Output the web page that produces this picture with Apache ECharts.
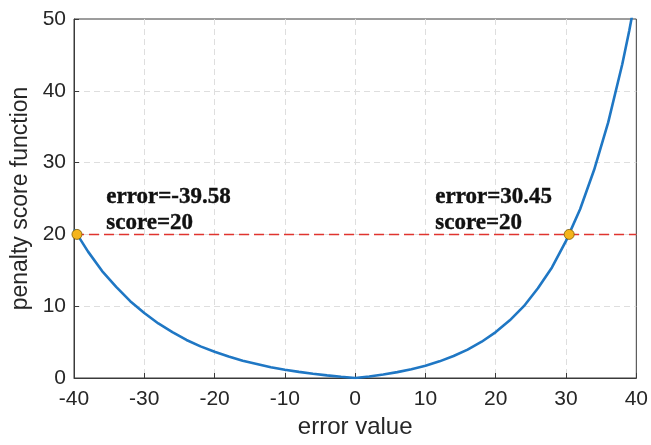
<!DOCTYPE html>
<html>
<head>
<meta charset="utf-8">
<script src="https://cdn.jsdelivr.net/npm/echarts@6/dist/echarts.min.js"></script>
<style>
  html, body { margin: 0; padding: 0; background: #fff; }
  #chart { width: 651px; height: 445px; }
</style>
</head>
<body>
<div id="chart"></div>
<script>
// values (error, score)
const errorValues = [-40, -38, -36, -34, -32, -30, -28, -26, -24, -22, -20, -18, -16, -14, -12, -10, -8, -6, -4, -2, 0,
    2, 4, 6, 8, 10, 12, 14, 16, 18, 20, 22, 24, 26, 28, 30, 32, 34, 36, 38, 39, 40];
const scoreValues = [20.7, 17.6, 14.9, 12.7, 10.7, 9.05, 7.6, 6.4, 5.3, 4.4, 3.65, 3.0, 2.4, 1.95, 1.5, 1.15, 0.85, 0.6, 0.36, 0.17, 0,
    0.22, 0.49, 0.82, 1.23, 1.72, 2.32, 3.06, 3.95, 5.05, 6.39, 8.03, 10.0, 12.5, 15.4, 19.1, 23.5, 29.0, 35.6, 43.7, 48.4, 53.6];

// the two marked crossings of score = 20
const crossErrors = [-39.58, 30.45];
const crossScores = [20, 20];
const thresholdScore = 20;
const xTicks = [-40, -30, -20, -10, 0, 10, 20, 30, 40];
const yTicks = [0, 10, 20, 30, 40, 50];

const chart = echarts.init(document.getElementById('chart'));

const curve = errorValues.map((e, i) => [e, scoreValues[i]]);
const points = crossErrors.map((e, i) => [e, crossScores[i]]);
const labelPos = [[-35.4, 23.4], [11.4, 23.4]]; // where the two text blocks sit

const sans = 'Liberation Sans, Arial, sans-serif';
const gridLine = { show: true, showMinLine: false, showMaxLine: false,
    lineStyle: { color: '#dedede', type: [6, 4], width: 1 } };

const option = {
    animation: false,
    grid: {
        left: 74, right: 11, top: 19, bottom: 67,
        show: true, borderColor: '#3a3a3a', borderWidth: 1
    },
    xAxis: {
        type: 'value',
        min: xTicks[0], max: xTicks[xTicks.length - 1], interval: 10,
        name: 'error value',
        nameLocation: 'middle',
        nameGap: 37,
        nameTextStyle: { fontFamily: sans, fontSize: 24, color: '#262626' },
        axisLine: { onZero: false, lineStyle: { color: '#3a3a3a', width: 1 } },
        axisTick: { inside: true, length: 5, lineStyle: { color: '#3a3a3a' } },
        axisLabel: { margin: 11, fontFamily: sans, fontSize: 21, color: '#262626' },
        splitLine: gridLine
    },
    yAxis: {
        type: 'value',
        min: yTicks[0], max: yTicks[yTicks.length - 1], interval: 10,
        name: 'penalty score function',
        nameLocation: 'middle',
        nameGap: 38,
        nameTextStyle: { fontFamily: sans, fontSize: 23, color: '#262626' },
        axisLine: { show: true, onZero: false, lineStyle: { color: '#3a3a3a', width: 1 } },
        axisTick: { show: true, inside: true, length: 5, lineStyle: { color: '#3a3a3a' } },
        axisLabel: { margin: 8, fontFamily: sans, fontSize: 21, color: '#262626' },
        splitLine: gridLine
    },
    series: [
        {
            type: 'line',
            data: [[xTicks[0], thresholdScore], [xTicks[xTicks.length - 1], thresholdScore]],
            showSymbol: false,
            lineStyle: { color: '#e0342f', width: 1.5, type: [10, 5] },
            z: 2
        },
        {
            type: 'line',
            data: curve,
            showSymbol: false,
            clip: true,
            lineStyle: { color: '#1f77c4', width: 2.6 },
            z: 3
        },
        {
            type: 'scatter',
            data: points,
            symbolSize: 10,
            itemStyle: { color: '#f4b41c', borderColor: '#7a5a08', borderWidth: 0.8, opacity: 1 },
            z: 5
        },
        {
            type: 'scatter',
            silent: true,
            data: labelPos.map((p, i) => ({
                value: p,
                label: {
                    show: true,
                    position: 'inside',
                    align: 'left',
                    verticalAlign: 'middle',
                    formatter: 'error=' + crossErrors[i] + '\nscore=' + crossScores[i],
                    fontFamily: 'Liberation Serif, Times New Roman, serif',
                    fontWeight: 'bold',
                    fontSize: 23,
                    lineHeight: 26,
                    color: '#111',
                    opacity: 1,
                    textBorderColor: '#111',
                    textBorderWidth: 0.4
                }
            })),
            symbolSize: 1,
            itemStyle: { color: '#fff', opacity: 1 },
            z: 6
        }
    ]
};

chart.setOption(option);
</script>
</body>
</html>
